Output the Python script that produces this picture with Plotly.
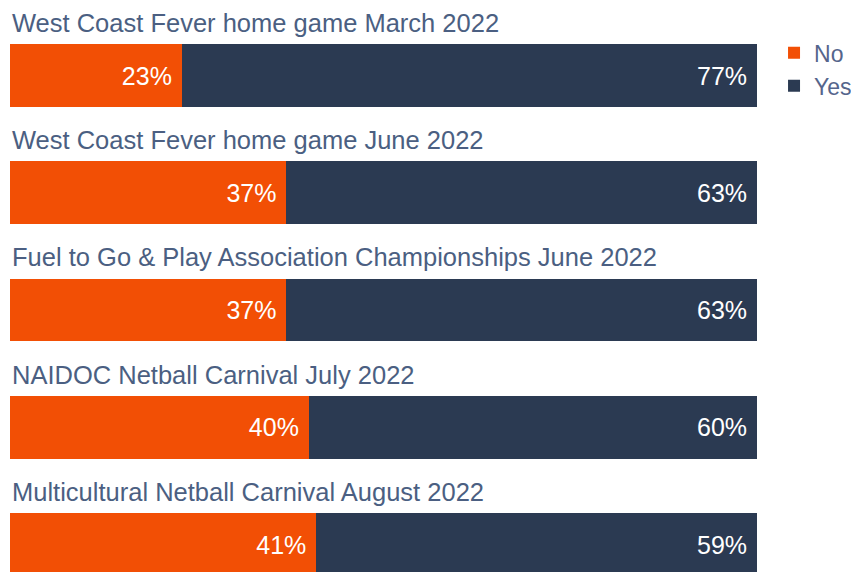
import plotly.graph_objects as go

categories = [
    "West Coast Fever home game March 2022",
    "West Coast Fever home game June 2022",
    "Fuel to Go & Play Association Championships June 2022",
    "NAIDOC Netball Carnival July 2022",
    "Multicultural Netball Carnival August 2022",
]
no_values = [23, 37, 37, 40, 41]
yes_values = [77, 63, 63, 60, 59]

ORANGE = "#F24F05"
NAVY = "#2B3A52"
TITLE_COLOR = "#4B5F82"
FONT = "Liberation Sans, Arial, Helvetica, sans-serif"

fig = go.Figure()
fig.add_trace(go.Bar(
    name="No", y=categories, x=no_values, orientation="h",
    marker=dict(color=ORANGE, line=dict(width=0)), width=0.537,
    text=[f"{v}% " for v in no_values], textposition="inside",
    insidetextanchor="end", textfont=dict(color="white", size=25, family=FONT),
    hoverinfo="skip",
))
fig.add_trace(go.Bar(
    name="Yes", y=categories, x=yes_values, orientation="h",
    marker=dict(color=NAVY, line=dict(width=0)), width=0.537,
    text=[f"{v}% " for v in yes_values], textposition="inside",
    insidetextanchor="end", textfont=dict(color="white", size=25, family=FONT),
    hoverinfo="skip",
))

for i, cat in enumerate(categories):
    fig.add_annotation(
        x=0, xref="x", y=i - 0.448, yref="y", text=cat, showarrow=False,
        xanchor="left", yanchor="middle", xshift=0,
        font=dict(size=25.5, color=TITLE_COLOR, family=FONT),
    )

fig.update_layout(
    barmode="stack",
    width=851, height=564,
    margin=dict(l=2, r=102, t=0, b=0, autoexpand=False),
    paper_bgcolor="white", plot_bgcolor="white",
    xaxis=dict(range=[0, 100], visible=False, fixedrange=True),
    yaxis=dict(range=[4.2345, -0.5757], visible=False, fixedrange=True),
    showlegend=True,
    legend=dict(
        x=1.0228, xanchor="left", y=0.9587, yanchor="top",
        font=dict(size=23, color="#55658C", family=FONT),
        traceorder="normal", bgcolor="rgba(0,0,0,0)", tracegroupgap=0,
        itemwidth=30,
    ),
    uniformtext=dict(mode=False),
)

fig.write_html("out.html")
